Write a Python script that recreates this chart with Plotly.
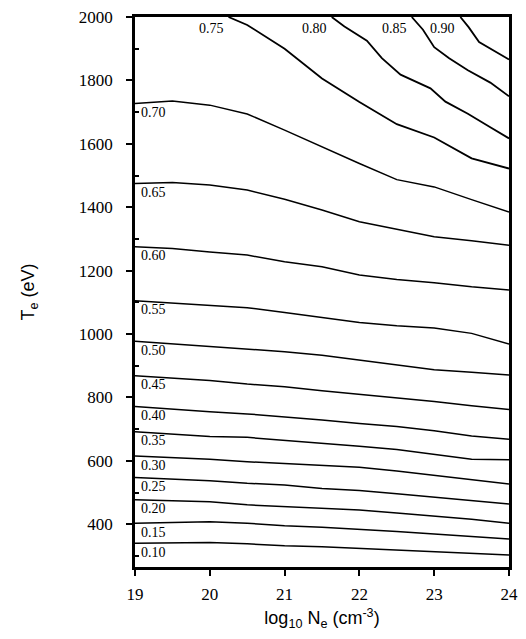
import plotly.graph_objects as go

# --- data: T_e (eV) along each contour line ---
NE = [19, 19.5, 20, 20.5, 21, 21.5, 22, 22.5, 23, 23.5, 24]

T_010 = [340, 340, 342, 338, 332, 329, 324, 319, 314, 308, 303]
T_015 = [403, 406, 408, 403, 395, 390, 384, 377, 369, 361, 353]
T_020 = [477, 475, 471, 461, 456, 450, 445, 435, 426, 416, 403]
T_025 = [547, 542, 537, 529, 524, 513, 506, 496, 485, 473, 464]
T_030 = [615, 611, 605, 597, 592, 587, 580, 568, 555, 542, 527]
T_035 = [692, 684, 677, 674, 665, 657, 646, 636, 620, 605, 603]
T_040 = [771, 762, 755, 748, 739, 729, 718, 708, 695, 678, 668]
T_045 = [868, 860, 853, 842, 834, 821, 810, 797, 787, 774, 762]
T_050 = [977, 969, 961, 953, 944, 933, 918, 904, 887, 879, 871]
T_055 = [1105, 1098, 1091, 1083, 1068, 1051, 1036, 1026, 1019, 1002, 968]
T_060 = [1275, 1270, 1259, 1249, 1228, 1212, 1186, 1172, 1162, 1149, 1139]
T_065 = [1475, 1478, 1470, 1454, 1425, 1391, 1354, 1330, 1307, 1294, 1280]
T_070 = [1727, 1735, 1722, 1694, 1643, 1590, 1538, 1487, 1464, 1424, 1385]

# lines that leave through the top edge
NE_075 = [20.25, 20.5, 21, 21.5, 22, 22.5, 23, 23.5, 24]
T_075 = [2000, 1975, 1900, 1806, 1732, 1662, 1620, 1554, 1522]
NE_080 = [21.63, 21.8, 22.1, 22.3, 22.55, 22.95, 23.15, 23.45, 23.75, 24]
T_080 = [2000, 1970, 1925, 1870, 1818, 1775, 1733, 1695, 1652, 1617]
NE_085 = [22.7, 22.85, 23.0, 23.2, 23.45, 23.75, 24]
T_085 = [2000, 1960, 1905, 1870, 1832, 1793, 1750]
NE_090 = [23.35, 23.46, 23.6, 23.82, 24]
T_090 = [2000, 1968, 1921, 1890, 1866]

side_lines = [
    ("0.10", T_010), ("0.15", T_015), ("0.20", T_020), ("0.25", T_025),
    ("0.30", T_030), ("0.35", T_035), ("0.40", T_040), ("0.45", T_045),
    ("0.50", T_050), ("0.55", T_055), ("0.60", T_060), ("0.65", T_065),
    ("0.70", T_070),
]
top_lines = [
    ("0.75", NE_075, T_075), ("0.80", NE_080, T_080),
    ("0.85", NE_085, T_085), ("0.90", NE_090, T_090),
]

serif = "Liberation Serif"
sans = "Liberation Sans"
tick_font = dict(family=serif, size=17, color="black")

fig = go.Figure()
annotations = []

for label, temps in side_lines:
    fig.add_trace(go.Scatter(x=NE, y=temps, mode="lines",
                             line=dict(color="black", width=1.5),
                             showlegend=False, hoverinfo="skip"))
    annotations.append(dict(x=NE[0], y=temps[0], text=label, showarrow=False,
                            xanchor="left", yanchor="middle", xshift=4, yshift=-9,
                            font=dict(family=serif, size=14, color="black")))

for label, ne, temps in top_lines:
    fig.add_trace(go.Scatter(x=ne, y=temps, mode="lines",
                             line=dict(color="black", width=1.8),
                             showlegend=False, hoverinfo="skip"))
    annotations.append(dict(x=ne[0], y=temps[0], text=label, showarrow=False,
                            xanchor="right", yanchor="middle", xshift=-3, yshift=-11,
                            font=dict(family=serif, size=14, color="black")))

# the page body adds 8px around the figure, so the figure is sized to fit inside it
fig.update_layout(
    width=510, height=623,
    margin=dict(l=127, r=9, t=9, b=64),
    paper_bgcolor="white", plot_bgcolor="white",
    font=dict(family=serif, size=16, color="black"),
    annotations=annotations,
    xaxis=dict(
        range=[19, 24], tickvals=[19, 20, 21, 22, 23, 24], automargin=False,
        ticks="outside", ticklen=6, tickwidth=2, tickcolor="black",
        showline=True, linewidth=2.5, linecolor="black", mirror=True,
        showgrid=False, zeroline=False, ticklabelstandoff=4,
        ticklabeloverflow="allow", tickfont=tick_font,
        title=dict(text="log<sub>10</sub> N<sub>e</sub> (cm<sup>-3</sup>)",
                   font=dict(family=sans, size=18, color="black"), standoff=20),
    ),
    yaxis=dict(
        range=[265, 2000], tickvals=[400, 600, 800, 1000, 1200, 1400, 1600, 1800, 2000],
        automargin=False,
        ticks="outside", ticklen=6, tickwidth=2, tickcolor="black",
        minor=dict(tickvals=[300, 500, 700, 900, 1100, 1300, 1500, 1700, 1900],
                   ticks="inside", ticklen=4, tickwidth=1.5, tickcolor="black"),
        showline=True, linewidth=2.5, linecolor="black", mirror=True,
        showgrid=False, zeroline=False, ticklabelstandoff=10,
        ticklabeloverflow="allow", tickfont=tick_font,
        title=dict(text="T<sub>e</sub> (eV)",
                   font=dict(family=sans, size=18, color="black"), standoff=40),
    ),
)

fig.write_html("out.html")
